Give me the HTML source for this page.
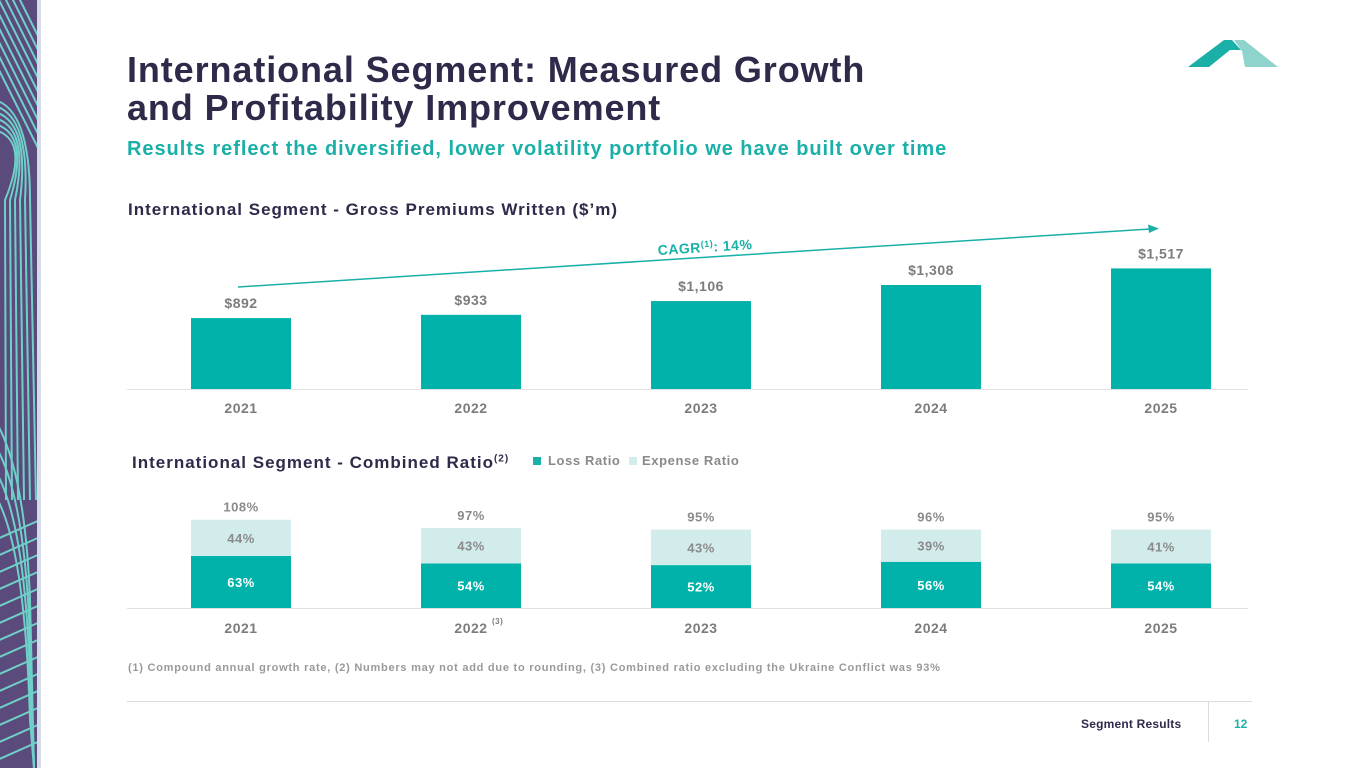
<!DOCTYPE html>
<html><head><meta charset="utf-8"><style>
body{margin:0;width:1365px;height:768px;background:#fff;font-family:"Liberation Sans",sans-serif;overflow:hidden;position:relative}
.t{position:absolute;white-space:nowrap}
</style></head><body>
<svg style="position:absolute;left:0;top:0" width="42" height="768">
<defs><clipPath id="cp"><rect x="0" y="0" width="37" height="768"/></clipPath></defs>
<rect x="0" y="0" width="37" height="768" fill="#5b4a7c"/>
<rect x="37" y="0" width="4" height="768" fill="#d4dbe6"/>
<g id="lines" stroke="#6fd0c8" stroke-width="2" fill="none" clip-path="url(#cp)"></g>
</svg>
<svg style="position:absolute;left:1185px;top:38px" width="95" height="32">
<polygon points="3,29 39,2 47,2 56,12 45,12 24,29" fill="#1ab0a8"/>
<polygon points="49,2 59,2 93,29 60,29 57,13" fill="#8fd3cd"/>
</svg>
<div class="t" style="left:127px;top:51px;font-size:36px;letter-spacing:0.9px;font-weight:bold;color:#2e2a4a;line-height:38px">International Segment: Measured Growth<br>and Profitability Improvement</div>
<div class="t" style="left:127px;top:138px;font-size:20px;letter-spacing:0.95px;font-weight:bold;color:#1ab0a8">Results reflect the diversified, lower volatility portfolio we have built over time</div>
<div class="t" style="left:128px;top:200px;font-size:17px;letter-spacing:1px;font-weight:bold;color:#2e2a4a">International Segment - Gross Premiums Written ($’m)</div>
<div class="t" style="left:132px;top:453px;font-size:17px;letter-spacing:1px;font-weight:bold;color:#2e2a4a">International Segment - Combined Ratio<sup style="font-size:10px">(2)</sup></div>
<div class="t" style="left:533px;top:453px;font-size:13px;letter-spacing:0.6px;font-weight:bold;color:#8a8a8a"><span style="display:inline-block;width:8px;height:8px;background:#1ab0a8;margin-right:7px"></span>Loss Ratio</div>
<div class="t" style="left:629px;top:453px;font-size:13px;letter-spacing:0.6px;font-weight:bold;color:#8a8a8a"><span style="display:inline-block;width:8px;height:8px;background:#d2eceb;margin-right:5px"></span>Expense Ratio</div>
<svg id="chart" style="position:absolute;left:0;top:0" width="1365" height="768" font-family="Liberation Sans, sans-serif" font-weight="bold" letter-spacing="0.5"></svg>
<div class="t" style="left:128px;top:662px;font-size:11px;letter-spacing:0.75px;color:#9a9a9a;font-weight:bold">(1) Compound annual growth rate, (2) Numbers may not add due to rounding, (3) Combined ratio excluding the Ukraine Conflict was 93%</div>
<div style="position:absolute;left:127px;top:701px;width:1125px;height:1px;background:#dcdcdc"></div>
<div style="position:absolute;left:1208px;top:702px;width:1px;height:40px;background:#dcdcdc"></div>
<div class="t" style="left:1081px;top:717px;font-size:12px;letter-spacing:0.2px;font-weight:bold;color:#2e2a4a">Segment Results</div>
<div class="t" style="left:1234px;top:717px;font-size:12px;font-weight:bold;color:#1ab0a8">12</div>
<script>
const years=["2021","2022","2023","2024","2025"];
const gpw=[892,933,1106,1308,1517];
const gpwLabels=["$892","$933","$1,106","$1,308","$1,517"];
const lossRatio=[63,54,52,56,54];
const expenseRatio=[44,43,43,39,41];
const combinedRatio=[108,97,95,96,95];
const NS="http://www.w3.org/2000/svg";
const svg=document.getElementById('chart');
function mk(tag,attrs,txt){const e=document.createElementNS(NS,tag);for(const k in attrs)e.setAttribute(k,attrs[k]);if(txt!==undefined)e.textContent=txt;svg.appendChild(e);return e;}
const xC=i=>241+i*230;
const yTop=v=>389-v*0.0795;
const base2=608, yR=v=>v*0.825;
let e;
e=mk('line',{x1:127,y1:389.5,x2:1248,y2:389.5,stroke:'#e2e2e2'});


e=mk('line',{x1:127,y1:608.5,x2:1248,y2:608.5,stroke:'#e2e2e2'});


years.forEach((y,i)=>{
 const x=xC(i);
 let r=mk('rect',{x:x-50,y:yTop(gpw[i]),width:100,height:389-yTop(gpw[i]),fill:'#00b2a9'});
 
 
 let t=mk('text',{x:x,y:yTop(gpw[i])-10,'text-anchor':'middle','font-size':14,fill:'#7c7c7c'},gpwLabels[i]);
 
 
 t=mk('text',{x:x,y:413,'text-anchor':'middle','font-size':14,fill:'#7c7c7c'},y);
 
 
 const lh=yR(lossRatio[i]),eh=yR(expenseRatio[i]);
 r=mk('rect',{x:x-50,y:base2-lh,width:100,height:lh,fill:'#00b2a9'});
 
 
 r=mk('rect',{x:x-50,y:base2-lh-eh,width:100,height:eh,fill:'#d2eceb'});
 
 
 t=mk('text',{x:x,y:base2-lh/2+5,'text-anchor':'middle','font-size':13,fill:'#fff'},lossRatio[i]+'%');
 
 
 t=mk('text',{x:x,y:base2-lh-eh/2+5,'text-anchor':'middle','font-size':13,fill:'#8a8a8a'},expenseRatio[i]+'%');
 
 
 t=mk('text',{x:x,y:base2-lh-eh-8,'text-anchor':'middle','font-size':13,fill:'#8a8a8a'},combinedRatio[i]+'%');
 
 
 t=mk('text',{x:x,y:633,'text-anchor':'middle','font-size':14,fill:'#7c7c7c'},y);
 
 
});
e=mk('text',{x:492,y:624,'font-size':8,fill:'#7c7c7c'},'(3)');


e=mk('line',{x1:238,y1:287,x2:1150,y2:229,stroke:'#1ab0a8','stroke-width':1.5});


e=mk('polygon',{points:'1159,228.5 1148,224.5 1149,233',fill:'#1ab0a8'});


e=mk('text',{x:658,y:255,'font-size':14,fill:'#1ab0a8',transform:'rotate(-3.6 658 255)'});
e.innerHTML='CAGR<tspan font-size="9" dy="-5">(1)</tspan><tspan dy="5">: 14%</tspan>';


const g=document.getElementById('lines');
for(let k=0;k<9;k++){const p=document.createElementNS(NS,'path');p.setAttribute('d',`M-10 ${k*14-60} L40 ${k*14+40}`);g.appendChild(p);}
for(let k=0;k<6;k++){const p=document.createElementNS(NS,'path');p.setAttribute('d',`M-5 ${100+k*6} Q${30} ${110+k*6} ${30-k*5} 200 L${36-k*6} 500`);g.appendChild(p);}
for(let k=0;k<4;k++){const p=document.createElementNS(NS,'path');p.setAttribute('d',`M-5 ${420+k*25} Q25 ${470+k*25} 30 ${600+k*40} L34 768`);g.appendChild(p);}
for(let k=0;k<14;k++){const p=document.createElementNS(NS,'path');p.setAttribute('d',`M-5 ${540+k*17} L40 ${520+k*17}`);g.appendChild(p);}
</script>
</body></html>
